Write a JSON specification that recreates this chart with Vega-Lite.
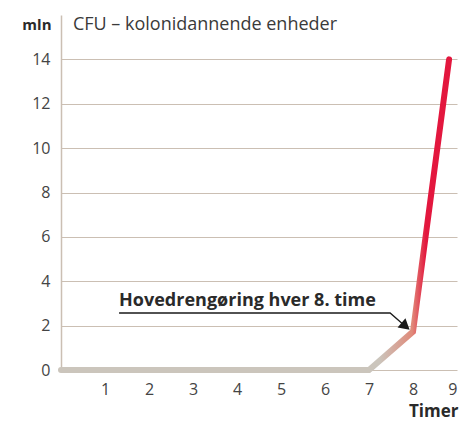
{
  "$schema": "https://vega.github.io/schema/vega-lite/v6.json",
  "width": 396,
  "height": 355,
  "autosize": "none",
  "padding": {"left": 61, "top": 15, "right": 7, "bottom": 51},
  "config": {"view": {"stroke": null}, "font": "Open Sans"},
  "datasets": {
    "cfu": [{"t": 0, "v": 0}, {"t": 7, "v": 0}, {"t": 8, "v": 1.73}, {"t": 8.82, "v": 14}],
    "note": [{"t": 1.32, "v": 2.88, "label": "Hovedrengøring hver 8. time"}],
    "heading": [{"t": 0.27, "v": 15.32, "label": "CFU – kolonidannende enheder"}],
    "leader": [{"t": 1.32, "v": 2.57}, {"t": 7.48, "v": 2.57}, {"t": 7.78, "v": 2.05}],
    "arrow": [{"t": 7.8, "v": 2.02}]
  },
  "layer": [
    {
      "data": {"name": "cfu"},
      "mark": {
        "type": "line",
        "strokeWidth": 6,
        "strokeCap": "round",
        "color": {
          "gradient": "linear", "x1": 0, "y1": 0, "x2": 1, "y2": 0,
          "stops": [
            {"offset": 0, "color": "#cbc5bc"},
            {"offset": 0.82, "color": "#cbc5bc"},
            {"offset": 0.905, "color": "#e08a7a"},
            {"offset": 0.94, "color": "#e3173e"},
            {"offset": 1, "color": "#e3173e"}
          ]
        }
      },
      "encoding": {
        "x": {
          "field": "t", "type": "quantitative",
          "scale": {"domain": [0, 9], "nice": false},
          "axis": {
            "values": [1, 2, 3, 4, 5, 6, 7, 8, 9],
            "grid": false, "domain": false, "ticks": false,
            "labelPadding": 11, "labelFontSize": 16, "labelColor": "#444444",
            "title": "Timer", "titleFontSize": 17, "titleFontWeight": "bold", "titleColor": "#2a2a2a",
            "titleX": 397, "titleY": 46, "titleAlign": "right", "titleBaseline": "alphabetic"
          }
        },
        "y": {
          "field": "v", "type": "quantitative",
          "scale": {"domain": [0, 16], "nice": false},
          "axis": {
            "values": [0, 2, 4, 6, 8, 10, 12, 14],
            "grid": true, "gridColor": "#cbbfb3", "gridWidth": 1.2,
            "domain": true, "domainColor": "#cbbfb3", "domainWidth": 1.5,
            "ticks": false,
            "labelPadding": 11, "labelFontSize": 16, "labelColor": "#444444",
            "title": "mln", "titleAngle": 0, "titleFontSize": 15, "titleFontWeight": "bold", "titleColor": "#2a2a2a",
            "titleX": -10, "titleY": 14, "titleAlign": "right", "titleBaseline": "alphabetic"
          }
        }
      }
    },
    {
      "data": {"name": "leader"},
      "mark": {"type": "line", "color": "#1a1a1a", "strokeWidth": 1.3},
      "encoding": {
        "x": {"field": "t", "type": "quantitative"},
        "y": {"field": "v", "type": "quantitative"}
      }
    },
    {
      "data": {"name": "arrow"},
      "mark": {"type": "point", "shape": "triangle", "filled": true, "color": "#1a1a1a", "opacity": 1, "size": 150, "angle": 130},
      "encoding": {
        "x": {"field": "t", "type": "quantitative"},
        "y": {"field": "v", "type": "quantitative"}
      }
    },
    {
      "data": {"name": "note"},
      "mark": {"type": "text", "align": "left", "baseline": "alphabetic", "fontSize": 18, "fontWeight": "bold", "color": "#2a2a2a"},
      "encoding": {
        "x": {"field": "t", "type": "quantitative"},
        "y": {"field": "v", "type": "quantitative"},
        "text": {"field": "label"}
      }
    },
    {
      "data": {"name": "heading"},
      "mark": {"type": "text", "align": "left", "baseline": "alphabetic", "fontSize": 18, "color": "#3a3a3a"},
      "encoding": {
        "x": {"field": "t", "type": "quantitative"},
        "y": {"field": "v", "type": "quantitative"},
        "text": {"field": "label"}
      }
    }
  ]
}
